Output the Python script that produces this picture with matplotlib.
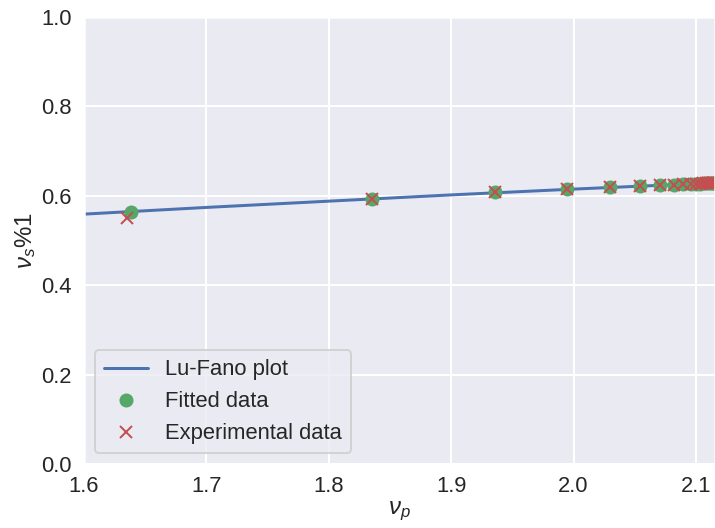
import numpy as np
import matplotlib
matplotlib.use("Agg")
import matplotlib.pyplot as plt
import seaborn as sns

sns.set_theme(style="darkgrid")
plt.rcParams["font.family"] = ["Liberation Sans", "DejaVu Sans"]
plt.rcParams["mathtext.fontset"] = "custom"
plt.rcParams["mathtext.it"] = "Liberation Sans:italic"
plt.rcParams["mathtext.rm"] = "Liberation Sans"

# Lu-Fano curve
curve_x = [1.60, 1.70, 1.80, 1.90, 2.00, 2.05, 2.10, 2.12]
curve_y = [0.559, 0.574, 0.588, 0.602, 0.615, 0.621, 0.627, 0.629]

# fitted / experimental levels
nu_p_fit = [1.6387, 1.835, 1.9355, 1.9944, 2.030, 2.054, 2.0706, 2.0820,
            2.0896, 2.0957, 2.1000, 2.1032, 2.1061, 2.1081, 2.1102, 2.1119,
            2.1131, 2.1142, 2.1151, 2.1160]
nu_s_fit = [0.564, 0.593, 0.608, 0.616, 0.620, 0.622, 0.624, 0.625,
            0.626, 0.6265, 0.627, 0.6273, 0.6276, 0.6278, 0.628, 0.6282,
            0.6284, 0.6285, 0.6286, 0.6287]
nu_p_exp = [1.635] + nu_p_fit[1:]
nu_s_exp = [0.550] + nu_s_fit[1:]

fig = plt.figure(figsize=(715 / 144, 528 / 144), dpi=144)
ax = fig.add_axes([84 / 715, 64 / 528, 631 / 715, 447 / 528])

ax.plot(curve_x, curve_y, color="#4C72B0", label="Lu-Fano plot")
ax.plot(nu_p_fit, nu_s_fit, "o", color="#55A868", label="Fitted data")
ax.plot(nu_p_exp, nu_s_exp, "x", color="#C44E52", label="Experimental data")

ax.set_xlim(1.6, 2.1156)
ax.set_ylim(0, 1)
ax.tick_params(axis="both", pad=0)
ax.set_xlabel(r"$\nu_p$", labelpad=1.5)
ax.set_ylabel(r"$\nu_s\%1$", labelpad=1.5)
ax.legend(loc="lower left")

fig.savefig("out.png", dpi=144)
